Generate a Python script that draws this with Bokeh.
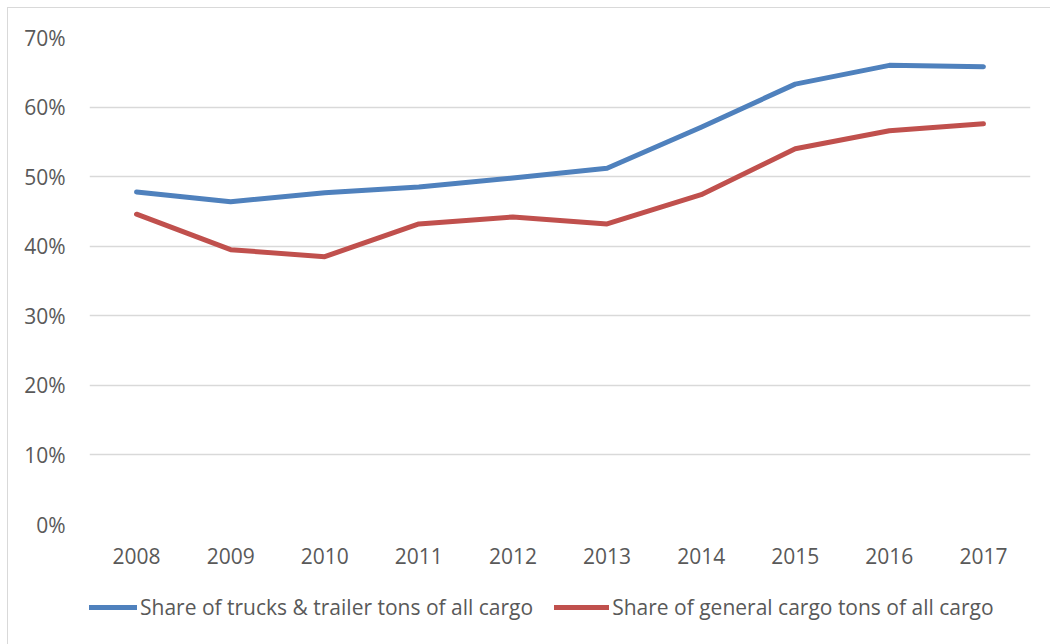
from bokeh.plotting import figure
from bokeh.layouts import column
from bokeh.models import FactorRange, Range1d, Legend, LegendItem, NumeralTickFormatter, FixedTicker
from bokeh.embed import file_html
from bokeh.resources import INLINE

years = ["2008", "2009", "2010", "2011", "2012", "2013", "2014", "2015", "2016", "2017"]
trucks_share = [0.478, 0.464, 0.477, 0.485, 0.498, 0.512, 0.571, 0.633, 0.660, 0.658]
general_share = [0.446, 0.395, 0.385, 0.432, 0.442, 0.432, 0.474, 0.540, 0.566, 0.576]
y_ticks = [0.0, 0.1, 0.2, 0.3, 0.4, 0.5, 0.6, 0.7]
series_names = ["Share of trucks & trailer tons of all cargo",
                "Share of general cargo tons of all cargo"]

FONT = "Open Sans"
TXT = "#595959"
BLUE = "#4F81BD"
RED = "#C0504D"
GRID = "#d9d9d9"

# main chart
p = figure(width=1050, height=580, x_range=FactorRange(*years, range_padding=0),
           y_range=Range1d(0, 0.7), output_backend="svg", toolbar_location=None,
           min_border_left=89, min_border_right=20, min_border_top=37, min_border_bottom=56)
p.border_fill_alpha = 0
p.styles = {"background": f"linear-gradient({GRID},{GRID}) 7px 7px / 1px 100% no-repeat, "
                          f"linear-gradient({GRID},{GRID}) 7px 7px / 100% 1px no-repeat, white"}
p.outline_line_color = None

p.line(years, trucks_share, line_color=BLUE, line_width=5, line_cap="round", line_join="round")
p.line(years, general_share, line_color=RED, line_width=5, line_cap="round", line_join="round")

p.yaxis.ticker = FixedTicker(ticks=y_ticks)
p.yaxis.formatter = NumeralTickFormatter(format="0%")
for ax in (p.xaxis[0], p.yaxis[0]):
    ax.axis_line_color = None
    ax.major_tick_line_color = None
    ax.minor_tick_line_color = None
    ax.major_label_text_font = FONT
    ax.major_label_text_font_size = "21px"
    ax.major_label_text_color = TXT
p.yaxis.major_label_standoff = 18
p.xaxis.major_label_standoff = 17

p.xgrid.grid_line_color = None
p.ygrid.grid_line_color = GRID
p.ygrid.grid_line_width = 1.5

# legend strip (same series, out of view, only to carry the legend)
lg = figure(width=1050, height=64, x_range=FactorRange(*years, range_padding=0),
            y_range=Range1d(10, 11), output_backend="svg", toolbar_location=None,
            x_axis_type=None, y_axis_type=None, min_border=0)
lg.grid.visible = False
lg.outline_line_color = None
lg.border_fill_alpha = 0
lg.background_fill_alpha = 0
lg.styles = {"background": f"linear-gradient({GRID},{GRID}) 7px 0px / 1px 100% no-repeat, white"}
r1 = lg.line(years, trucks_share, line_color=BLUE, line_width=5, line_cap="round")
r2 = lg.line(years, general_share, line_color=RED, line_width=5, line_cap="round")

legend = Legend(items=[LegendItem(label=series_names[0], renderers=[r1]),
                       LegendItem(label=series_names[1], renderers=[r2])],
                orientation="horizontal", location=(-7, 23),
                glyph_width=55, glyph_height=20, label_standoff=3, spacing=21,
                padding=0, margin=0, border_line_color=None, background_fill_alpha=0,
                label_text_font=FONT, label_text_font_size="21px", label_text_color=TXT)
lg.add_layout(legend, "center")

layout = column(p, lg, spacing=0)
open("out.html", "w").write(file_html(layout, INLINE))
